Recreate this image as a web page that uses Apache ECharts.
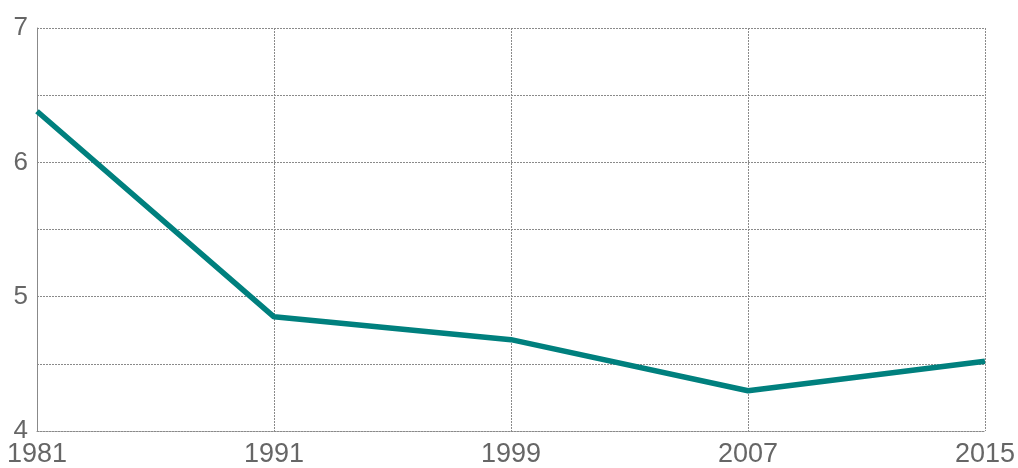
<!DOCTYPE html>
<html>
<head>
<meta charset="utf-8">
<script src="https://cdn.jsdelivr.net/npm/echarts@6/dist/echarts.min.js"></script>
<style>
  html, body { margin: 0; padding: 0; background: #fff; }
  #chart { width: 1018px; height: 468px; }
</style>
</head>
<body>
<div id="chart"></div>
<script>
// 数据
const years = ['1981', '1991', '1999', '2007', '2015']
const values = [6.38, 4.85, 4.68, 4.30, 4.52]

const chart = echarts.init(document.getElementById('chart'))
const dotted = { color: '#8a8a8a', width: 1, type: [2, 1] }

chart.setOption({
  animation: false,
  grid: { left: 37, right: 33, top: 28, bottom: 37, show: false },
  xAxis: {
    type: 'category',
    data: years,
    boundaryGap: false,
    axisLine: { show: true, lineStyle: dotted },
    axisTick: { show: false },
    splitLine: { show: true, lineStyle: dotted },
    axisLabel: {
      color: '#666',
      fontSize: 27,
      fontFamily: 'Liberation Sans',
      margin: 10,
      showMinLabel: true,
      showMaxLabel: true
    }
  },
  yAxis: {
    type: 'value',
    min: 4,
    max: 7,
    interval: 0.5,
    axisLine: { show: true, lineStyle: dotted },
    axisTick: { show: false },
    splitLine: { show: true, lineStyle: dotted },
    axisLabel: {
      color: '#666',
      fontSize: 26,
      fontFamily: 'Liberation Sans',
      margin: 9,
      formatter: v => (v % 1 === 0 ? String(v) : '')
    }
  },
  series: [{
    type: 'line',
    data: values,
    symbol: 'none',
    lineStyle: { color: '#00807e', width: 5.5 }
  }]
})
</script>
</body>
</html>
